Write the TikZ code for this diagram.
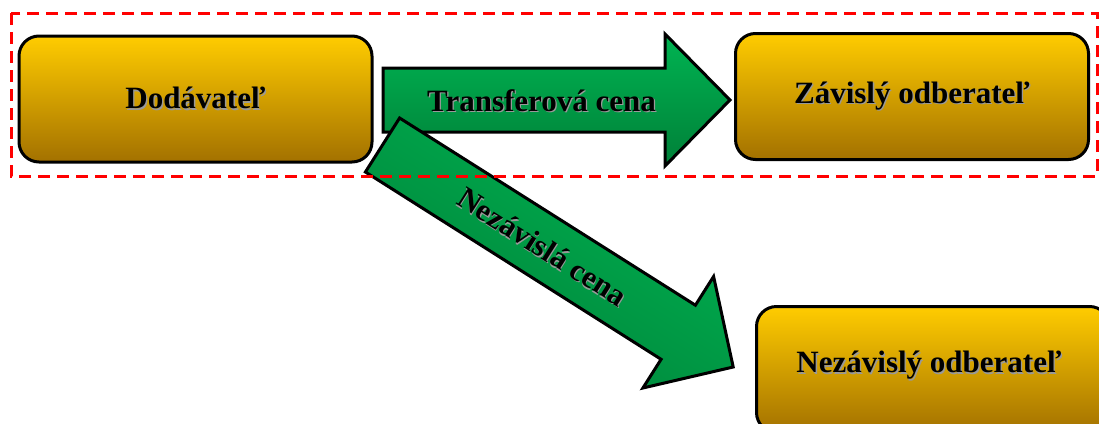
\documentclass[tikz,border=0pt]{standalone}
\usepackage{fontspec}
\setmainfont{Liberation Serif}
\definecolor{goldTop}{RGB}{255,204,0}
\definecolor{goldBot}{RGB}{163,113,0}
\definecolor{grnTop}{RGB}{0,180,82}
\definecolor{grnBot}{RGB}{0,128,56}
\definecolor{dashRed}{RGB}{255,0,0}
\newcommand{\shtxt}[1]{\rlap{\kern1.3pt\raisebox{-1.3pt}{\color{black!40}#1}}#1}
\tikzset{
  goldbox/.style={draw=black, line width=3pt, rounded corners=20pt,
    top color=goldTop, bottom color=goldBot, minimum width=353pt,
    minimum height=126pt, inner sep=0pt},
  lbl/.style={font=\fontsize{31}{36}\selectfont\bfseries, text=black, inner sep=0pt},
  blockarrow/.style={draw=black, line width=3pt, line join=miter,
    top color=grnTop, bottom color=grnBot},
  dashframe/.style={draw=dashRed, line width=3pt, dash pattern=on 12pt off 7pt}
}
\begin{document}
\begin{tikzpicture}[x=1pt,y=-1pt]
\useasboundingbox (0,0) rectangle (1099,423);
\clip (0,0) rectangle (1099,423);
% boxes
\node[goldbox] (dod) at (195.5,99) {};
\node[goldbox] (zav) at (912,96.5) {};
\node[goldbox, anchor=north west] (nez) at (755,305) {};
\node[lbl] (tdod) at (dod.center) {\shtxt{Dodávateľ}};
\node[lbl] (tzav) at (zav.center) {\shtxt{Závislý odberateľ}};
\node[lbl] (tnez) at (929,366) {\shtxt{Nezávislý odberateľ}};
% horizontal block arrow
\coordinate (h1) at (383,68);
\coordinate (h2) at (665,68);
\coordinate (h3) at (665,34);
\coordinate (h4) at (730,100);
\coordinate (h5) at (665,166);
\coordinate (h6) at (665,132);
\coordinate (h7) at (383,132);
\path[blockarrow] (h1) -- (h2) -- (h3) -- (h4) -- (h5) -- (h6) -- (h7) -- cycle;
\node[lbl] (ttr) at (541.5,101) {\shtxt{Transferová cena}};
% diagonal block arrow
\coordinate (d1) at (399.6,118.0);
\coordinate (d2) at (695.4,305.2);
\coordinate (d3) at (713.6,276.5);
\coordinate (d4) at (733.2,367.0);
\coordinate (d5) at (642.9,388.0);
\coordinate (d6) at (661.1,359.3);
\coordinate (d7) at (365.4,172.0);
\path[blockarrow, shading angle=-32] (d1) -- (d2) -- (d3) -- (d4) -- (d5) -- (d6) -- (d7) -- cycle;
\node[lbl, rotate=-32.3] (tne) at (542.2,247.1) {\shtxt{Nezávislá cena}};
% dashed frame
\draw[dashframe] (11,13) rectangle (1097,176);
\end{tikzpicture}
\end{document}
